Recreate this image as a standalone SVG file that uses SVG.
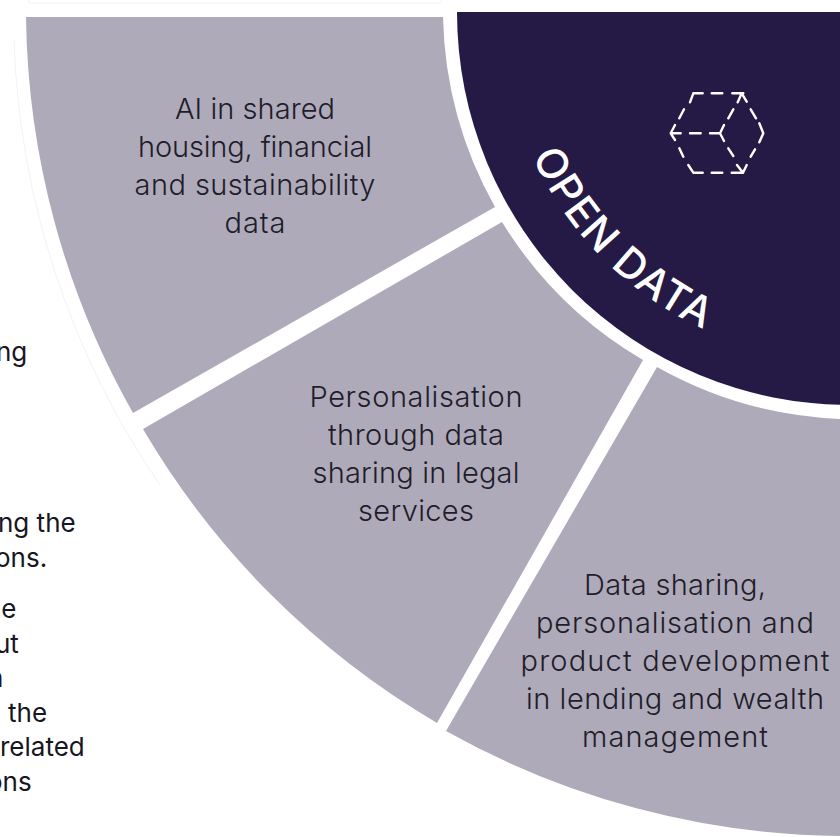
<svg xmlns="http://www.w3.org/2000/svg" width="840" height="837" viewBox="0 0 840 837">
<style>
.seg{fill:#aeaaba}
.t{font-family:"Inter","Liberation Sans",sans-serif;font-size:29px;font-weight:300;fill:#1f1d29;text-anchor:middle}
.l{font-family:"Inter","Liberation Sans",sans-serif;font-size:26px;font-weight:400;fill:#18161f}
.faint{fill:none;stroke:#f3f3f5;stroke-width:1}
.ic{fill:none;stroke:#fff;stroke-width:2.4;stroke-linecap:round;stroke-linejoin:round}
</style>
<defs><path id="arc" d="M522,131 A349,349 0 0 0 770,352"/></defs>
<rect width="840" height="837" fill="#fff"/>
<path class="faint" d="M14,40 A836,836 0 0 0 160,485 M29,0 V3 H441 V0"/>
<g id="seg-ai">
<path class="seg" d="M26,17 A824,824 0 0 0 133,413 L495,207 A407,407 0 0 1 443,17 Z"/>
<text class="t" x="255" y="119" textLength="160">AI in shared</text>
<text class="t" x="255" y="157" textLength="234">housing, financial</text>
<text class="t" x="255" y="195" textLength="241">and sustainability</text>
<text class="t" x="255" y="233" textLength="61">data</text>
</g>
<g id="seg-legal">
<path class="seg" d="M143,429 A824,824 0 0 0 437,723 L643,360 A407,407 0 0 1 502,222 Z"/>
<text class="t" x="416" y="407" textLength="213">Personalisation</text>
<text class="t" x="416" y="445" textLength="176">through data</text>
<text class="t" x="416" y="483" textLength="207">sharing in legal</text>
<text class="t" x="416" y="521" textLength="116">services</text>
</g>
<g id="seg-lending">
<path class="seg" d="M446,731 A824,824 0 0 0 840,836 V419 A407,407 0 0 1 657,367 Z"/>
<text class="t" x="675" y="595" textLength="182">Data sharing,</text>
<text class="t" x="675" y="633" textLength="278">personalisation and</text>
<text class="t" x="675" y="671" textLength="309">product development</text>
<text class="t" x="675" y="709" textLength="298">in lending and wealth</text>
<text class="t" x="675" y="747" textLength="186">management</text>
</g>
<g id="open-data">
<path fill="#251a45" d="M457,12 A393,393 0 0 0 850,405 V12 Z"/>
<text font-family="Inter,'Liberation Sans',sans-serif" font-size="42" font-weight="500" letter-spacing="1.6" fill="#fff"><textPath href="#arc" startOffset="27">OPEN DATA</textPath></text>
<path class="ic" d="M690,102.3 L693.3,93.3 H702.7 M711.7,93.3 H722.3 M732.3,93.3 H743.3 M737.7,102.3 L741.7,93.3 L746.7,101.7 M750.7,109.3 L756,118.3 M759.3,123.3 L763.3,133.3 L759.3,142.3 M755,149.3 L750.7,156.7 M737,165 L743,172.7 L746.7,165 M731.7,172.7 H743 M711.7,172.7 H722.3 M688.3,165 L693.3,172.7 H702.7 M683.3,156.7 L679.3,148.3 M675,140 L670.7,133.3 L675,125 M670.7,133.3 H680.7 M690,133.3 H700.7 M710,133.3 H720 M724,125 L720,133.3 L724,141 M728.3,118.3 L733.3,109.3 M728.3,148.3 L733.3,156 M679.3,118.3 L684,109.3"/>
</g>
<g id="left-text" class="l">
<text x="-4" y="361">ng</text>
<text x="-14" y="395">n</text>
<text x="-2" y="532">ng the</text>
<text x="-5" y="567">ons.</text>
<text x="-14" y="618">ne</text>
<text x="-5" y="653">ut</text>
<text x="-12" y="687">n</text>
<text x="8" y="722">the</text>
<text x="0" y="756">related</text>
<text x="-13" y="791">ons</text>
</g>
</svg>
